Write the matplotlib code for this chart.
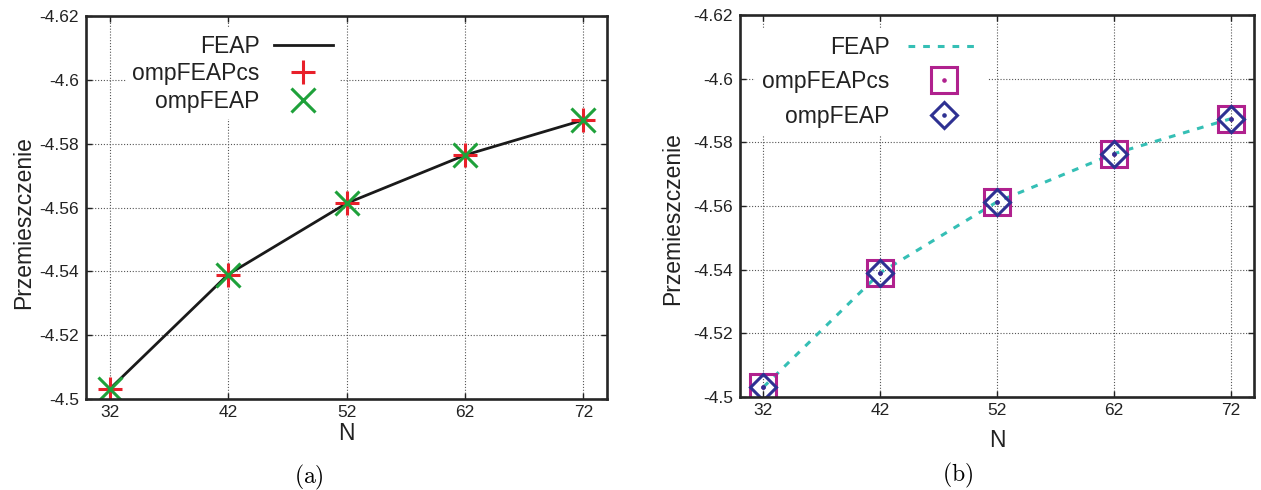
import matplotlib
matplotlib.use("Agg")
import matplotlib.pyplot as plt

plt.rcParams['font.family'] = ['Liberation Sans', 'DejaVu Sans']
plt.rcParams['axes.unicode_minus'] = False
plt.rcParams['mathtext.fontset'] = 'cm'

# data
N = [32, 42, 52, 62, 72]
feap = [-4.5031, -4.5390, -4.5613, -4.5764, -4.5874]
omp_feap_cs = [-4.5031, -4.5390, -4.5613, -4.5764, -4.5874]
omp_feap = [-4.5031, -4.5390, -4.5613, -4.5764, -4.5874]

x_ticks = [32, 42, 52, 62, 72]
y_ticks = [-4.62, -4.60, -4.58, -4.56, -4.54, -4.52, -4.50]
y_tick_labels = ['-4.62', '-4.6', '-4.58', '-4.56', '-4.54', '-4.52', '-4.5']

fig = plt.figure(figsize=(12.61, 4.90), dpi=100)
ax1 = fig.add_axes([86/1261, 91/490, 521/1261, 383/490])
ax2 = fig.add_axes([740/1261, 93/490, 514/1261, 382/490])


def style_axes(ax):
    ax.set_xlim(30, 74)
    ax.set_ylim(-4.5, -4.62)
    ax.set_xticks(x_ticks)
    ax.set_xticklabels([str(v) for v in x_ticks])
    ax.set_yticks(y_ticks)
    ax.set_yticklabels(y_tick_labels)
    ax.tick_params(direction='in', length=4, width=1.0, labelsize=12.5,
                   top=True, right=True, colors='#222222', labelcolor='#222222')
    ax.tick_params(axis='x', pad=4)
    ax.tick_params(axis='y', pad=5)
    ax.grid(True, color='#555555', lw=0.8, ls=(0, (1, 1.6)))
    ax.set_axisbelow(True)
    for s in ax.spines.values():
        s.set_linewidth(1.9)
        s.set_color('#262626')
    ax.set_xlabel('N', fontsize=16.5, color='#222222')
    ax.set_ylabel('Przemieszczenie', fontsize=16.5, color='#222222')


style_axes(ax1)
style_axes(ax2)

# (a)
l1, = ax1.plot(N, feap, color='#1a1a1a', lw=2.0, label='FEAP')
p1, = ax1.plot(N, omp_feap_cs, ls='none', marker='+', ms=17, mew=2.2,
               color='#e8202a', label='ompFEAPcs')
p2, = ax1.plot(N, omp_feap, ls='none', marker='x', ms=17, mew=2.2,
               color='#1ea13a', label='ompFEAP')
leg1 = ax1.legend(handles=[l1, p1, p2], loc='upper right',
                  bbox_to_anchor=(340/1261, 1 - 28/490),
                  bbox_transform=fig.transFigure, markerfirst=False,
                  numpoints=1, fontsize=16.5, frameon=True, fancybox=False,
                  facecolor='white', edgecolor='none', framealpha=1,
                  borderpad=0.3, handlelength=2.6, handletextpad=0.6,
                  labelspacing=0.19, borderaxespad=0)
for t in leg1.get_texts():
    t.set_color('#222222')

# (b)
l2, = ax2.plot(N, feap, color='#35bfb5', lw=2.2, ls=(0, (2.2, 2.6)),
               label='FEAP')
sq, = ax2.plot(N, omp_feap_cs, ls='none', marker='s', ms=19, mew=2.2,
               mfc='none', mec='#b0218e')
sqd, = ax2.plot(N, omp_feap_cs, ls='none', marker='o', ms=2.3,
                color='#b0218e')
dm, = ax2.plot(N, omp_feap, ls='none', marker='D', ms=13.5, mew=2.2,
               mfc='none', mec='#2e3192')
dmd, = ax2.plot(N, omp_feap, ls='none', marker='o', ms=2.3,
                color='#2e3192')
leg2 = ax2.legend(handles=[l2, (sq, sqd), (dm, dmd)],
                  labels=['FEAP', 'ompFEAPcs', 'ompFEAP'],
                  loc='upper right', bbox_to_anchor=(988/1261, 1 - 29/490),
                  bbox_transform=fig.transFigure, markerfirst=False,
                  numpoints=1, fontsize=16.5, frameon=True, fancybox=False,
                  facecolor='white', edgecolor='none', framealpha=1,
                  borderpad=0.3, handlelength=3.2, handletextpad=0.8,
                  labelspacing=0.5, borderaxespad=0)
for t in leg2.get_texts():
    t.set_color('#222222')

ax1.yaxis.set_label_coords(-0.098, 0.46)
ax2.yaxis.set_label_coords(-0.109, 0.466)
ax1.xaxis.set_label_coords(0.5, -0.060)
ax2.xaxis.set_label_coords(0.5, -0.084)

fig.text(309/1261, 1 - 477/490, r'$(\mathrm{a})$', fontsize=17,
         ha='center', va='center')
fig.text(958/1261, 1 - 475/490, r'$(\mathrm{b})$', fontsize=17,
         ha='center', va='center')

fig.savefig('out.png', dpi=100)
